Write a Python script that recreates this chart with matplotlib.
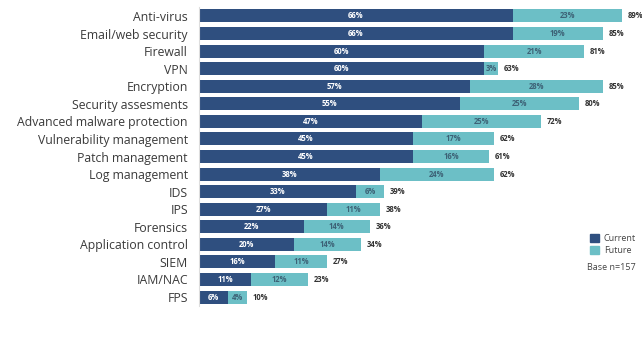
import matplotlib
matplotlib.use("Agg")
import matplotlib.pyplot as plt
from matplotlib.patches import Patch
import numpy as np

plt.rcParams['font.family'] = ['Open Sans', 'DejaVu Sans']

# categories, top to bottom
categories = ["Anti-virus", "Email/web security", "Firewall", "VPN", "Encryption",
              "Security assesments", "Advanced malware protection",
              "Vulnerability management", "Patch management", "Log management",
              "IDS", "IPS", "Forensics", "Application control", "SIEM",
              "IAM/NAC", "FPS"]
current = [66, 66, 60, 60, 57, 55, 47, 45, 45, 38, 33, 27, 22, 20, 16, 11, 6]
future = [23, 19, 21, 3, 28, 25, 25, 17, 16, 24, 6, 11, 14, 14, 11, 12, 4]
totals = [89, 85, 81, 63, 85, 80, 72, 62, 61, 62, 39, 38, 36, 34, 27, 23, 10]

c_cur = "#2f4f7f"
c_fut = "#6cbfc6"

fig = plt.figure(figsize=(6.42, 3.37), dpi=100)
ax = fig.add_axes([199 / 642, 0.0926, 442 / 642, 0.886])

y = np.arange(len(categories))
h = 0.74
ax.barh(y, current, height=h, color=c_cur)
ax.barh(y, future, left=current, height=h, color=c_fut)

for i in range(len(categories)):
    ax.text(current[i] / 2, i, f"{current[i]}%", ha="center", va="center",
            color="white", fontsize=5.5, fontweight="bold")
    ax.text(current[i] + future[i] / 2, i, f"{future[i]}%", ha="center", va="center",
            color="#3d6276", fontsize=5.5, fontweight="bold")
    ax.text(totals[i] + 1.2, i, f"{totals[i]}%", ha="left", va="center",
            color="#333333", fontsize=5.5, fontweight="bold")

ax.set_xlim(0, 93)
ax.set_ylim(len(categories) - 0.5, -0.5)
ax.set_yticks(y)
ax.set_yticklabels(categories, fontsize=8.8, color="#3a3a3a")
ax.tick_params(axis="y", length=0, pad=8)
ax.set_xticks([])
for s in ["top", "right", "bottom"]:
    ax.spines[s].set_visible(False)
ax.spines["left"].set_color("#dddddd")
ax.spines["left"].set_linewidth(0.8)

handles = [Patch(color=c_cur, label="Current"), Patch(color=c_fut, label="Future")]
fig.legend(handles=handles, loc="upper left", bbox_to_anchor=(582 / 642, 1 - 226 / 337),
           frameon=False, fontsize=6.5, handlelength=1.0, handleheight=1.0,
           handletextpad=0.5, labelspacing=0.3, labelcolor="#444444")
fig.text(587 / 642, 1 - 267 / 337, "Base n=157", fontsize=6.5, color="#444444",
         va="center", ha="left")

fig.savefig("out.png", dpi=100)
